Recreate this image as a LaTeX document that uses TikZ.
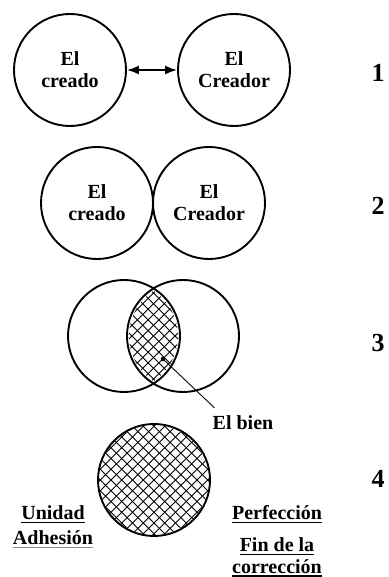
\documentclass[tikz,border=0pt]{standalone}
\usepackage{fontspec}
\setmainfont{Liberation Serif}
\usetikzlibrary{arrows.meta}
\newcommand{\lbl}{\fontsize{20}{22}\selectfont\bfseries}
\newcommand{\numfont}{\fontsize{26}{28}\selectfont\bfseries}
\newcommand{\ulword}[2][black]{\setbox0\hbox{#2}\leavevmode\rlap{\color{#1}\rule[-3.5pt]{\wd0}{1.1pt}}\box0}
\newcommand{\crosshatch}[2]{%
  \foreach \a in {45,-45} {
    \begin{scope}[shift={#1}, rotate=\a]
      \foreach \k in {-10,...,10} \draw[hatch] (\k*#2,-75) -- (\k*#2,75);
    \end{scope}}}
\tikzset{
  ring/.style={circle, draw, line width=1.9pt, minimum size=112pt, inner sep=0pt, align=center, font=\lbl},
  hatch/.style={line width=0.8pt},
  bothway/.style={line width=1.8pt, {Latex[length=12pt,width=9pt]}-{Latex[length=12pt,width=9pt]}},
  numlbl/.style={font=\numfont, anchor=base},
  word/.style={font=\lbl, anchor=base, inner sep=0pt},
}
\begin{document}
\begin{tikzpicture}[x=1pt,y=1pt]
\useasboundingbox (0,0) rectangle (388,577);
% 1
\node[ring] (creado1) at (70,507) {El\\creado};
\node[ring] (creador1) at (234,507) {El\\Creador};
\draw[bothway] (creado1) -- (creador1);
\node[numlbl] (n1) at (378,495) {1};
% 2
\node[ring] (creado2) at (97,374) {El\\creado};
\node[ring] (creador2) at (209,374) {El\\Creador};
\node[numlbl] (n2) at (378,362) {2};
% 3
\coordinate (c3a) at (124,241);
\coordinate (c3b) at (183,241);
\begin{scope}
  \clip (c3a) circle (54pt);
  \clip (c3b) circle (54pt);
  \crosshatch{(153.5,241)}{7.6}
\end{scope}
\node[ring] (creado3) at (c3a) {};
\node[ring] (creador3) at (c3b) {};
\coordinate (good) at (163,218);
\fill (good) circle (2.3pt);
\node[word] (bien) at (243,147) {El bien};
\draw[line width=0.9pt] (good) -- ([shift={(2,8)}]bien.north west);
\node[numlbl] (n3) at (378,225) {3};
% 4
\coordinate (c4) at (154,97);
\begin{scope}
  \clip (c4) circle (55pt);
  \crosshatch{(c4)}{7.6}
\end{scope}
\node[ring] (whole) at (c4) {};
\node[numlbl] (n4) at (378,89) {4};
\node[word] (unidad) at (53,57) {\ulword{Unidad}};
\node[word] (adhesion) at (53,32) {\ulword[black!45]{Adhesión}};
\node[word] (perfeccion) at (277,57) {\ulword{Perfección}};
\node[word] (finde) at (277,25) {\ulword{Fin de la}};
\node[word] (correccion) at (277,4) {\ulword{corrección}};
\end{tikzpicture}
\end{document}
